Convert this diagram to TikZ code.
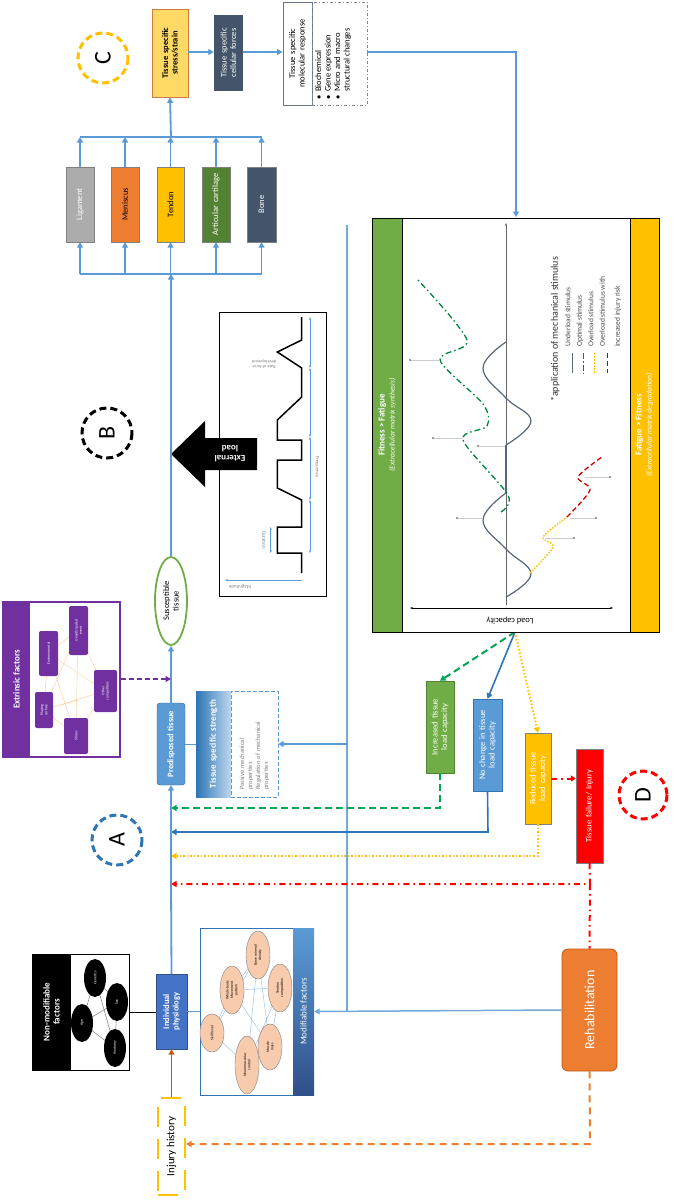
\documentclass[tikz,border=0pt]{standalone}
\usepackage{fontspec}
\setmainfont{Carlito}
\usetikzlibrary{arrows.meta,shapes.geometric,calc}
\definecolor{bl}{HTML}{5B9BD5}
\definecolor{dbl}{HTML}{2E75B6}
\definecolor{slate}{HTML}{44546A}
\definecolor{stressf}{HTML}{FFD966}
\definecolor{orng}{HTML}{ED7D31}
\definecolor{yel}{HTML}{FFC000}
\definecolor{grn}{HTML}{70AD47}
\definecolor{dgrn}{HTML}{548235}
\definecolor{ind}{HTML}{4472C4}
\definecolor{purp}{HTML}{7030A0}
\definecolor{peach}{HTML}{F8CBAD}
\definecolor{brn}{HTML}{C55A11}
\definecolor{gdash}{HTML}{00A651}
\newcommand\rbox[8]{\node[#1,minimum width={(#5-#3)*1pt},minimum height={(#6-#4)*1pt},inner sep=0pt] (#2) at ({(#3+#5)/2},{(#4+#6)/2}) {};
\node[rotate=90,text width={(#6-#4-8)*1pt},align=center,inner sep=0pt,#7] at (#2) {#8};}
\tikzset{
 ar/.style={-{Triangle[length=5.5pt,width=6pt]}},
 bline/.style={draw=bl,line width=1.8pt},
 lbl/.style={font=\fontsize{8.5}{9.5}\selectfont},
 wl/.style={font=\fontsize{8.5}{9.5}\selectfont,text=white},
 wlb/.style={font=\bfseries\fontsize{8.5}{9.5}\selectfont,text=white},
 circ/.style={line width=3pt,dash pattern=on 7pt off 4pt},
 letter/.style={rotate=90,font=\fontsize{24}{24}\selectfont},
 tiny/.style={rotate=90,font=\fontsize{3.8}{4.3}\selectfont,align=center},
 ell/.style={ellipse,draw=gray,inner sep=0pt},
}
\begin{document}
\hyphenpenalty=10000 \exhyphenpenalty=10000
\begin{tikzpicture}[x=1pt,y=-1pt]
\useasboundingbox (0,0) rectangle (674,1200);
\fill[white] (0,0) rectangle (674,1200);
% ---------- top: C region ----------
\draw[yel,circ] (103,58) circle (25);
\node[letter] (cC) at (103,58) {C};
\rbox{draw=brn!80,fill=stressf,line width=0.8pt}{stress}{152}{9}{188}{97}{font=\bfseries\fontsize{8.5}{9.5}\selectfont}{Tissue specific stress/strain}
\rbox{fill=slate}{cell}{214}{15}{243}{91}{wl}{Tissue specific cellular forces}
\rbox{draw=slate!80,fill=white,line width=0.8pt}{mol}{283}{2}{312}{105}{lbl}{Tissue specific molecular response}
\node[draw=slate!70,dash pattern=on 3pt off 2pt on 1pt off 2pt,minimum width=55pt,minimum height=103pt,inner sep=0pt] (molb) at (339.5,53.5) {};
\node[rotate=90,align=left,lbl,anchor=north west,inner sep=0pt] at (315,100) {$\bullet$\ \ Biochemical\\$\bullet$\ \ Gene expression\\$\bullet$\ \ Micro\ and macro\\\phantom{$\bullet$}\ \ structural changes};
\draw[bline,ar] (stress.east|-0,52) -- (cell.west|-0,52);
\draw[bline,ar] (cell.east|-0,52) -- (mol.west|-0,52);
% tissues
\rbox{draw=gray,fill=gray!65}{lig}{66}{167}{94}{242}{wl}{Ligament}
\rbox{draw=gray,fill=orng}{men}{111}{167}{139}{242}{lbl}{Meniscus}
\rbox{draw=gray,fill=yel}{ten}{157}{167}{184}{242}{lbl}{Tendon}
\rbox{draw=gray,fill=dgrn}{art}{202}{167}{230}{242}{wl}{Articular cartilage}
\rbox{draw=gray,fill=slate}{bone}{247}{167}{276}{242}{wl}{Bone}
\coordinate (bbl) at (80,274); \coordinate (bbr) at (261.5,274);
\coordinate (tbl) at (80,137); \coordinate (tbr) at (261.5,137);
\coordinate (bus) at (171,274); \coordinate (tbus) at (171,137);
\draw[bline] (bbl) -- (bbr); \draw[bline] (tbl) -- (tbr);
\foreach \n/\x in {lig/80,men/125,ten/170.5,art/216,bone/261.5}{
 \draw[bline,ar] (\x,274) -- (\n.south);
 \draw[bline,ar] (\n.north) -- (\x,137);}
\draw[bline,ar] (tbus) -- (stress.south);
% molecular -> plot
\coordinate (mc) at (516,52);
\draw[bline,ar] (molb.east|-0,52) -- (mc) -- (516,217);
% ---------- B region ----------
\draw[black,circ] (107,433) circle (25);
\node[letter] (cB) at (107,433) {B};
\node[draw,line width=1pt,minimum width=107pt,minimum height=284pt,inner sep=0pt] (wave) at (273,454) {};
\fill[black] (171,454) -- (205,421) -- (205,438) -- (257,438) -- (257,470) -- (205,470) -- (205,487) -- cycle;
\node[rotate=180,font=\bfseries\fontsize{9}{10}\selectfont,text=white,align=center] (extl) at (230,454) {External\\load};
\draw[line width=1.5pt] (301.7,573)--(301.7,553)--(277.3,553)--(277.3,527)--(301.7,527)--(301.7,500)--(277.3,488)--(277.3,460)--(301.7,460)--(301.7,440)--(277.3,440)--(277.3,420)--(301.7,397)--(301.7,368)--(277.3,352)--(301.7,340)--(301.7,317);
\draw[bl,line width=0.5pt,{Stealth[length=3pt]}-{Stealth[length=3pt]}] (310,553) -- (310,500);
\draw[bl,line width=0.5pt,{Stealth[length=3pt]}-{Stealth[length=3pt]}] (310,500) -- (310,437);
\draw[bl,line width=0.5pt,{Stealth[length=3pt]}-{Stealth[length=3pt]}] (310,437) -- (310,368);
\draw[bl,line width=0.5pt,{Stealth[length=3pt]}-{Stealth[length=3pt]}] (310,368) -- (310,317);
\draw[bl,line width=0.5pt,{Stealth[length=3pt]}-{Stealth[length=3pt]}] (270.7,527) -- (270.7,553);
\draw[bl,line width=0.5pt,-{Stealth[length=3pt]}] (301.7,580) -- (225,580);
\node[rotate=180,font=\fontsize{5}{6}\selectfont,text=gray] at (240,587) {Magnitude};
\node[rotate=-90,font=\fontsize{5}{6}\selectfont,text=gray] at (264,540) {Duration};
\node[rotate=-90,font=\fontsize{5}{6}\selectfont,text=gray] at (317,467) {Frequency};
\node[rotate=180,font=\fontsize{4.5}{5}\selectfont,text=gray,align=center] at (264,364) {Rate of force\\development};
% vertical feed line
\coordinate (vtop) at (347,225); \coordinate (vbot) at (347,1011);
\draw[draw=bl!85,line width=1.5pt] (vtop) -- (vbot);
% ---------- main axis ----------
\node[draw=grn,line width=1.8pt,ellipse,minimum width=32pt,minimum height=88pt,inner sep=0pt,fill=white] (sus) at (171,601) {};
\node[rotate=90,lbl,align=center] at (sus) {Susceptible\\tissue};
\draw[bline,ar] (sus.north) -- (bus);
\rbox{draw=dbl!80!black,fill=bl,rounded corners=3pt}{pred}{157}{703}{185}{785}{wlb}{Predisposed tissue}
\draw[bline,ar] (pred.north) -- (sus.south);
\rbox{left color=dbl,right color=bl!40,draw=none}{str}{196}{691}{231}{797}{font=\bfseries\fontsize{9}{10}\selectfont,text=white}{Tissue specific strength}
\node[draw=bl,dash pattern=on 4pt off 2pt,minimum width=47pt,minimum height=106pt,inner sep=0pt] (strb) at (254.5,744) {};
\node[rotate=90,align=left,text width=100pt,font=\fontsize{6.5}{8}\selectfont,text=gray,inner sep=0pt] at (strb) {$\cdot$ Passive mechanical\\\ \ properties\\$\cdot$ Regulation of mechanical\\\ \ properties};
\draw[bl,line width=1pt] (pred.east) -- (str.west|-pred.east);
\coordinate (vs) at (347,744);
\draw[bline,ar] (vs) -- (strb.east);
% A
\draw[dbl,circ] (117,840) circle (25);
\node[letter] (cA) at (117,840) {A};
% extrinsic
\node[draw=purp,line width=1.5pt,minimum width=117pt,minimum height=155pt,inner sep=0pt] (ext) at (61.5,679.5) {};
\fill[purp] (3,602) rectangle (30,757);
\node[rotate=90,font=\bfseries\fontsize{9}{10}\selectfont,text=white] at (16.5,679.5) {Extrinsic factors};
\begin{scope}[orange!40,line width=0.4pt]
\draw (44,710)--(48,653) (44,710)--(78,630) (44,710)--(105,691) (44,710)--(76,736) (48,653)--(105,691) (48,653)--(76,736) (78,630)--(105,691) (78,630)--(76,736) (105,691)--(76,736) (44,710)--(78,700) (48,653)--(78,630);
\end{scope}
\foreach \nm/\xa/\ya/\xb/\yb/\t in {ps/35/692/53/728/{Playing\\surface},env/39/631/58/676/{Environmental},una/69/606/88/655/{Unanticipated\\event},sho/64/718/88/754/{Shoes},oth/94/670/117/712/{Other\\competitors}}{
 \node[fill=purp,rounded corners=2pt,minimum width={(\xb-\xa)*1pt},minimum height={(\yb-\ya)*1pt},inner sep=0pt] (\nm) at ({(\xa+\xb)/2},{(\ya+\yb)/2}) {};
 \node[tiny,text=white] at (\nm) {\t};}
\draw[purp,line width=1.5pt,dash pattern=on 5pt off 3pt,ar] (ext.east|-0,679) -- (171,679);
% feedback lines
\coordinate (fg) at (171,808); \coordinate (fb) at (171,832); \coordinate (fy) at (171,856); \coordinate (fr) at (171,884);
\rbox{draw=dgrn,fill=grn}{inc}{426}{681}{454}{773}{wl}{Increased tissue load capacity}
\rbox{draw=dbl,fill=bl}{noc}{473}{699}{502}{791}{wl}{No change in tissue load capacity}
\rbox{draw=gray,fill=yel}{red}{525}{733}{551}{824}{wl}{Reduced tissue load capacity}
\rbox{draw=gray,fill=red}{fail}{576}{749}{603}{863}{wl}{Tissue failure/ Injury}
\draw[red,circ] (643,795) circle (24);
\node[letter] (cD) at (643,795) {D};
\coordinate (pb) at (515,632);
\draw[gdash,line width=2pt,dash pattern=on 7pt off 4pt,ar] (pb) -- (inc.north);
\draw[dbl,line width=1.6pt,ar] (pb) -- (noc.north);
\draw[yel,line width=2pt,dash pattern=on 1.5pt off 2pt,ar] (pb) -- (red.north);
\draw[gdash,line width=2pt,dash pattern=on 7pt off 4pt,ar] (inc.south) -- (440,808) -- (fg);
\draw[dbl,line width=1.6pt,ar] (noc.south) -- (488,832) -- (fb);
\draw[yel,line width=2pt,dash pattern=on 1.5pt off 2pt,ar] (red.south) -- (538,856) -- (fy);
\draw[red,line width=2pt,dash pattern=on 6pt off 4pt on 1.5pt off 4pt,-{Triangle[length=5pt,width=6pt]}] (red.east) -- (fail.west|-red.east);
\rbox{draw=brn,fill=orng,rounded corners=6pt,line width=0.8pt}{rehab}{562}{949}{617}{1071}{font=\fontsize{14}{15}\selectfont,text=white}{Rehabilitation}
\draw[red,line width=2pt,dash pattern=on 6pt off 4pt on 1.5pt off 4pt,ar] (fail.south) -- (590,884) -- (fr);
\draw[red,line width=2pt,dash pattern=on 6pt off 4pt on 1.5pt off 4pt] (590,884) -- (rehab.north);
% ---------- bottom ----------
\rbox{draw=ind!70!black,fill=ind}{indv}{156}{974}{187}{1049}{wlb}{Individual physiology}
\draw[bline] (indv.north) -- (fr);
\draw[bline,ar] (fr) -- (pred.south);
% non modifiable
\node[draw,line width=1pt,minimum width=97pt,minimum height=116pt,inner sep=0pt] (nm) at (80.5,1012) {};
\fill[black] (32,954) rectangle (71,1070);
\node[rotate=90,font=\bfseries\fontsize{9}{10}\selectfont,text=white,align=center] at (51.5,1012) {Non-modifiable\\factors};
\draw[gray,line width=0.5pt] (95,978)--(82,1023) (95,978)--(115,1048) (82,1023)--(117,1002) (117,1002)--(115,1048) (82,1023)--(115,1048) (95,978)--(117,1002);
\foreach \nm/\x/\y/\t in {gen/95/978/Genetics,age/82/1023/Age,sex/117/1002/Sex,ana/115/1048/Anatomy}{
 \node[ellipse,fill=black,minimum width=22pt,minimum height=38pt,inner sep=0pt] (\nm) at (\x,\y) {};
 \node[tiny,text=white] at (\nm) {\t};}
\draw[line width=1pt] (nm.east|-0,1012) -- (indv.west|-0,1012);
% modifiable
\node[draw=dbl,line width=1pt,minimum width=93pt,minimum height=167pt,inner sep=0pt] (modb) at (246.5,1011.5) {};
\node[top color=bl,bottom color=ind!70!black,minimum width=21pt,minimum height=167pt,inner sep=0pt] (modband) at (303.5,1011.5) {};
\node[rotate=90,text=white,font=\fontsize{9}{10}\selectfont] at (modband) {Modifiable factors};
\draw[bl,line width=1pt] (indv.east) -- (modb.west|-indv.east);
\draw[bl!70,line width=0.4pt] (212,1033)--(232,990) (212,1033)--(247,1065) (232,990)--(258,955) (232,990)--(280,988) (232,990)--(270,1047) (258,955)--(247,1065) (280,988)--(247,1065) (270,1047)--(258,955) (280,988)--(270,1047) (212,1033)--(258,955);
\foreach \nm/\x/\y/\h/\t in {sk/212/1033/38/{Skill level},wb/232/990/48/{Whole-body\\Movement\\pattern},bmd/258/955/48/{Bone mineral\\density},tc/280/988/48/{Tendon\\composition},mm/270/1047/46/{Muscle\\mass},nc/247/1065/58/{Neuromuscular\\control}}{
 \node[ell,fill=peach,minimum width=24pt,minimum height={\h*1pt}] (\nm) at (\x,\y) {};
 \node[tiny] at (\nm) {\t};}
\draw[draw=bl!85,line width=1.5pt,ar] (rehab.west) -- (modband.east);
% injury history
\node[draw=yel,line width=2pt,dash pattern=on 20pt off 12pt,minimum width=27pt,minimum height=97pt,inner sep=0pt] (inj) at (171.5,1146.5) {};
\node[rotate=90,font=\fontsize{11}{12}\selectfont] at (inj) {Injury history};
\draw[brn,line width=1.8pt,ar] (inj.north) -- (indv.south);
\draw[orng,line width=2pt,dash pattern=on 7pt off 5pt,ar] (rehab.south) -- (590,1144) -- (inj.east|-0,1144);
% ---------- plot ----------
\fill[grn] (372,218) rectangle (402,632);
\fill[yel] (630,218) rectangle (659,632);
\node[draw,line width=1pt,fill=white,minimum width=228pt,minimum height=414pt,inner sep=0pt] (plot) at (516,425) {};
\draw[line width=1pt] (372,218) rectangle (659,632);
\node[rotate=90,text=white,align=center,font=\fontsize{7.5}{10}\selectfont] at (387,425) {\textbf{\fontsize{9}{10}\selectfont Fitness > Fatigue}\\\textit{(Extracellular matrix synthesis)}};
\node[rotate=90,text=white,align=center,font=\fontsize{7.5}{10}\selectfont] at (644,425) {\textbf{\fontsize{9}{10}\selectfont Fatigue > Fitness}\\\textit{(Extracellular matrix degradation)}};
\draw[gray!80!black,line width=0.6pt,-{Stealth[length=3pt]}] (506,605) -- (506,223);
\draw[line width=0.6pt,{Stealth[length=3pt]}-{Stealth[length=3pt]}] (410,608) -- (613,608);
\node[rotate=180,lbl] at (510,621) {Load capacity};
\draw[slate!90,line width=1.2pt] plot[smooth,tension=0.7] coordinates {(506,597)(531,574)(506,549)(483,520)(506,493)};
\draw[slate!90,line width=1.2pt] (506,493) -- (506,445);
\draw[slate!90,line width=1.2pt] plot[smooth,tension=0.7] coordinates {(506,445)(531,421)(506,398)(483,368)(506,342)};
\draw[gdash!80!black,line width=1.3pt,dash pattern=on 6pt off 3pt on 1.5pt off 3pt] plot[smooth,tension=0.5] coordinates {(501,512)(508,495)(463,440)(487,426)(483,404)(440,360)(467,340)(418,280)};
\draw[yel,line width=1.3pt,dash pattern=on 1.5pt off 1.5pt] plot[smooth,tension=0.5] coordinates {(530,573)(553,547)(543,537)(567,517)};
\draw[red!80!black,line width=1.3pt,dash pattern=on 5pt off 3pt] plot[smooth,tension=0.5] coordinates {(567,517)(590,490)(578,477)(602,457)};
\foreach \xa/\xb/\y in {457/483/518,433/463/438,478/505/446,410/440/360,574/545/538,596/570/518,610/585/477}{
 \draw[gray!40,line width=0.4pt] (\xa,\y) -- (\xb,\y);
 \fill[gray] (\xa,\y) circle (1.1);}
\node[rotate=90,anchor=west,font=\fontsize{10}{11}\selectfont,text=black!80,inner sep=0pt] at (555,402) {*application of mechanical stimulus};
\draw[slate!90,line width=1pt] (572,353) -- (572,373);
\draw[gdash!80!black,line width=1pt,dash pattern=on 6pt off 2pt on 1.5pt off 2pt] (583,353) -- (583,373);
\draw[yel,line width=1pt,dash pattern=on 1.5pt off 1.5pt] (594,353) -- (594,373);
\draw[red!80!black,line width=1pt,dash pattern=on 5pt off 3pt] (607,353) -- (607,373);
\node[rotate=90,anchor=north west,align=left,font=\fontsize{7.5}{11.5}\selectfont,text=black!70,inner sep=0pt] at (565,347) {Underload stimulus\\Optimal stimulus\\Overload stimulus\\Overload stimulus with};
\node[rotate=90,anchor=west,font=\fontsize{7.5}{8}\selectfont,text=black!70,inner sep=0pt] at (618,347) {increased injury risk};
\end{tikzpicture}
\end{document}
